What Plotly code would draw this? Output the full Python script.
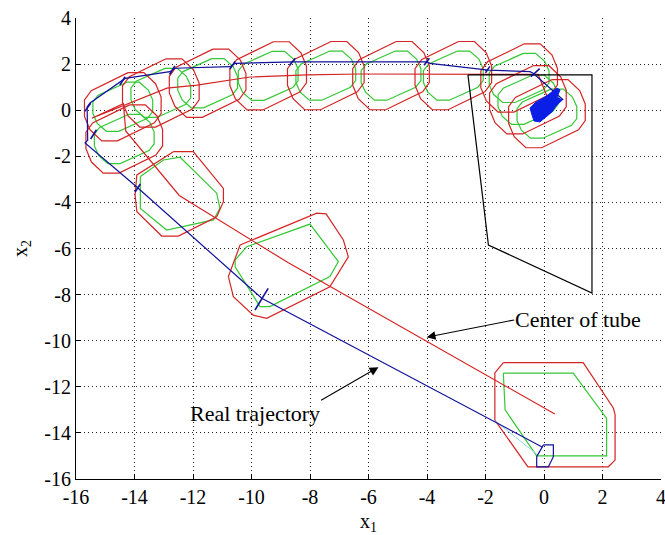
import plotly.graph_objects as go

# ---- nominal path through the tube centres ----
center_x = [0.37, -8.74, -12.47, -14.30, -14.38, -15.46, -12.89, -11.86, -10.05, -8.10, -6.29, -4.00, -1.00, -0.20, 0.20]
center_y = [-13.18, -6.62, -3.70, -0.90, 0.28, -0.35, 0.96, 1.09, 1.44, 1.53, 1.57, 1.56, 1.56, 1.55, 0.30]

# ---- real trajectory ----
traj_x = [-0.05, -9.65, -13.93, -15.69, -15.60, -15.62, -15.52, -14.50, -14.32, -12.79, -12.62, -10.74,
          -10.56, -8.57, -6.29, -4.01, -3.90, -2.08, -1.90, -0.48, -0.37, 0.66]
traj_y = [-14.62, -8.16, -3.32, -1.42, -1.30, 0.14, 0.31, 1.22, 1.38, 1.67, 1.82, 1.89,
          2.03, 2.10, 2.10, 2.10, 2.03, 1.74, 1.74, 1.67, 1.60, 0.44]

# short jumps of the trajectory at tube switches
jump_x0 = [-14.50, -12.80, -10.74, -8.70, -4.10, -2.00, -0.45, -15.50, -13.98, -9.88, -15.70]
jump_y0 = [1.09, 1.55, 1.78, 1.95, 1.95, 1.62, 1.45, -1.25, -3.55, -8.67, -0.05]
jump_x1 = [-14.32, -12.62, -10.56, -8.50, -3.92, -1.85, -0.15, -15.30, -13.80, -9.43, -15.50]
jump_y1 = [1.45, 1.92, 2.12, 2.25, 2.25, 1.90, 1.80, -0.85, -3.20, -7.73, 0.30]

# settled region of the trajectory around the origin
blob_x = [-0.41, -0.48, -0.27, 0.03, 0.27, 0.44, 0.55, 0.44, 0.62, 0.41, 0.27, 0.03, -0.14, -0.34]
blob_y = [-0.21, 0.10, 0.36, 0.57, 0.79, 0.96, 0.88, 0.57, 0.44, 0.18, -0.08, -0.34, -0.51, -0.47]

# initial set
init_x = [-0.02, 0.32, 0.32, 0.15, -0.25, -0.25, -0.02]
init_y = [-14.52, -14.52, -15.03, -15.47, -15.47, -15.03, -14.52]

# faint edge entering the initial set
edge_x = [-1.71, -0.21]
edge_y = [-13.44, -14.96]

# black constraint polygon
box_x = [-2.60, 1.64, 1.64, -1.90, -2.60]
box_y = [1.53, 1.53, -7.93, -5.85, 1.53]

# tube cross-section (outer) relative to its centre
tube_dx = [0.18, 0.72, 1.12, 1.31, 1.31, 1.08, -0.18, -0.72, -1.12, -1.31, -1.31, -1.08]
tube_dy = [1.48, 1.48, 1.00, 0.42, -0.30, -0.70, -1.48, -1.48, -1.00, -0.42, 0.30, 0.70]
inner_scale_x = 0.78
inner_scale_y = 0.72

# centres of the small tubes
tube_cx = [-14.40, -14.35, -13.10, -11.50, -9.43, -7.46, -5.23, -3.10, -0.85, -0.55, 0.10]
tube_cy = [0.15, -1.25, 0.75, 1.17, 1.49, 1.50, 1.50, 1.50, 1.40, 0.45, -0.15]

# larger tubes along the lower branch
bigA_outer_x = [-1.39, 1.34, 2.37, 2.43, 2.43, 2.20, -0.55, -1.68, -1.68]
bigA_outer_y = [-10.95, -10.95, -12.92, -13.20, -15.18, -15.47, -15.47, -13.44, -11.40]
bigA_inner_x = [-1.39, 1.00, 2.14, 2.14, -0.25, -1.33]
bigA_inner_y = [-11.41, -11.41, -13.37, -15.00, -15.00, -13.00]

bigB_outer_x = [-10.39, -7.77, -7.45, -6.86, -6.69, -7.32, -9.48, -9.94, -10.62, -10.79]
bigB_outer_y = [-5.85, -4.47, -4.50, -5.63, -6.36, -7.66, -9.03, -8.89, -8.09, -7.22]
bigB_inner_x = [-10.56, -10.16, -8.00, -7.03, -7.32, -9.37, -9.71, -10.56]
bigB_inner_y = [-6.50, -5.92, -4.94, -6.57, -7.22, -8.52, -8.52, -6.79]

bigC_outer_x = [-12.67, -11.99, -10.96, -10.96, -11.19, -12.50, -13.07, -13.92, -13.98, -13.92]
bigC_outer_y = [-1.80, -1.80, -3.39, -3.97, -4.62, -5.46, -5.46, -4.40, -3.68, -2.81]
bigC_inner_x = [-13.80, -13.01, -12.44, -11.19, -11.08, -11.30, -12.90, -13.80]
bigC_inner_y = [-2.88, -2.16, -2.04, -3.60, -4.26, -4.76, -5.20, -4.26]

tick_vals = [-16, -14, -12, -10, -8, -6, -4, -2, 0, 2, 4]
tick_text = [str(v) for v in tick_vals]

RED = "#d42424"
GREEN = "#34c834"
BLUE = "#12129c"


def closed(xs, ys):
    return list(xs) + [xs[0]], list(ys) + [ys[0]]


def joined(polys):
    xs, ys = [], []
    for px, py in polys:
        cx, cy = closed(px, py)
        xs += cx + [None]
        ys += cy + [None]
    return xs, ys


outer_polys = [(bigA_outer_x, bigA_outer_y), (bigB_outer_x, bigB_outer_y), (bigC_outer_x, bigC_outer_y)]
inner_polys = [(bigA_inner_x, bigA_inner_y), (bigB_inner_x, bigB_inner_y), (bigC_inner_x, bigC_inner_y)]
for cx, cy in zip(tube_cx, tube_cy):
    outer_polys.append(([cx + d for d in tube_dx], [cy + d for d in tube_dy]))
    inner_polys.append(([cx + d * inner_scale_x for d in tube_dx], [cy + d * inner_scale_y for d in tube_dy]))

fig = go.Figure()

gx, gy = joined(inner_polys)
fig.add_trace(go.Scatter(x=gx, y=gy, mode="lines", line=dict(color=GREEN, width=1.2), hoverinfo="skip"))
rx, ry = joined(outer_polys)
fig.add_trace(go.Scatter(x=rx, y=ry, mode="lines", line=dict(color=RED, width=1.2), hoverinfo="skip"))

fig.add_trace(go.Scatter(x=center_x, y=center_y, mode="lines", line=dict(color=RED, width=1.2)))
fig.add_trace(go.Scatter(x=box_x, y=box_y, mode="lines", line=dict(color="black", width=1.2)))
fig.add_trace(go.Scatter(x=edge_x, y=edge_y, mode="lines", line=dict(color="#8fd8e4", width=1)))

fig.add_trace(go.Scatter(x=traj_x, y=traj_y, mode="lines", line=dict(color=BLUE, width=1.2)))
jx, jy = [], []
for a, b, c, d in zip(jump_x0, jump_y0, jump_x1, jump_y1):
    jx += [a, c, None]
    jy += [b, d, None]
fig.add_trace(go.Scatter(x=jx, y=jy, mode="lines", line=dict(color=BLUE, width=1.6)))

fig.add_trace(go.Scatter(x=init_x, y=init_y, mode="lines", line=dict(color=BLUE, width=1.2)))
bx, by = closed(blob_x, blob_y)
fig.add_trace(go.Scatter(x=bx, y=by, mode="lines", fill="toself", fillcolor="#0a1ee6",
                         line=dict(color="#0a1ee6", width=1)))

# annotations: label text sits at the tail of each arrow
fig.add_annotation(x=-4.01, y=-9.85, ax=-1.02, ay=-9.10, xref="x", yref="y", axref="x", ayref="y",
                   text="Center of tube", showarrow=True, arrowhead=2, arrowsize=1.6, arrowwidth=1.1,
                   arrowcolor="black", xanchor="left", yanchor="middle", borderpad=0,
                   font=dict(size=22, color="black"))
fig.add_annotation(x=-5.66, y=-11.15, ax=-7.62, ay=-12.58, xref="x", yref="y", axref="x", ayref="y",
                   text="Real trajectory", showarrow=True, arrowhead=2, arrowsize=1.6, arrowwidth=1.1,
                   arrowcolor="black", xanchor="right", yanchor="top", borderpad=0,
                   font=dict(size=22, color="black"))

axis_common = dict(
    range=[-16, 4], tickmode="array", tickvals=tick_vals, ticktext=tick_text,
    ticks="inside", ticklen=5, tickcolor="black", tickwidth=1,
    showline=True, linecolor="black", linewidth=1, mirror=False,
    showgrid=True, gridcolor="#222222", gridwidth=1, griddash="1px,3px",
    zeroline=False, tickfont=dict(size=20, color="black"), ticklabeloverflow="allow",
    automargin=False,
)
fig.update_xaxes(**axis_common, title=dict(text="x<sub>1</sub>", font=dict(size=20, color="black"), standoff=10))
fig.update_yaxes(**axis_common, title=dict(text="x<sub>2</sub>", font=dict(size=20, color="black"), standoff=11))

fig.update_layout(
    width=665, height=535, margin=dict(l=76, r=4, t=18, b=56, pad=0, autoexpand=False),
    plot_bgcolor="white", paper_bgcolor="white", showlegend=False,
    font=dict(family="Liberation Serif", color="black"),
)

fig.write_html("out.html")
